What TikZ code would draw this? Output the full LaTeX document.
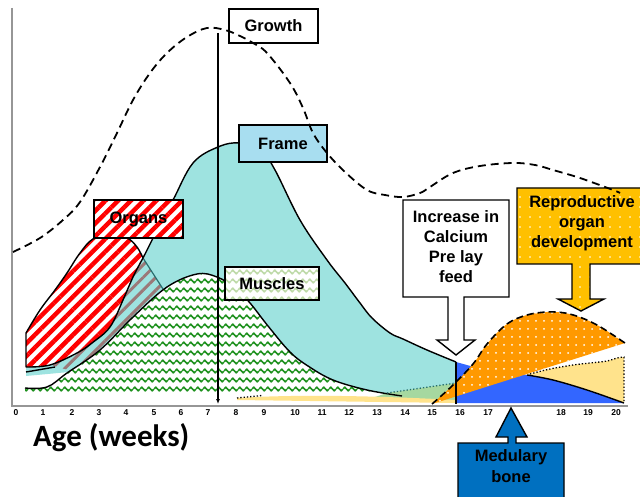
\documentclass[tikz,border=0pt]{standalone}
\usepackage{fontspec}
\setmainfont{Liberation Sans}
\newfontfamily\agefont{Carlito}
\usetikzlibrary{patterns,patterns.meta,arrows.meta}
\definecolor{cyanf}{RGB}{158,227,224}
\definecolor{frameboxc}{RGB}{168,222,240}
\definecolor{wavegreen}{RGB}{30,145,30}
\definecolor{palegreen}{RGB}{190,218,168}
\definecolor{lgreen}{RGB}{166,216,160}
\definecolor{orangef}{RGB}{255,153,0}
\definecolor{lyellow}{RGB}{255,227,140}
\definecolor{bluef}{RGB}{51,102,255}
\definecolor{medblue}{RGB}{0,112,192}
\definecolor{reproc}{RGB}{255,192,0}
\definecolor{brownstripe}{RGB}{155,120,120}
\definecolor{tealline}{RGB}{40,110,110}
\definecolor{axisgray}{RGB}{150,150,150}

\tikzdeclarepattern{
  name=zigzag,
  type=uncolored,
  bounding box={(0pt,-4.5pt) and (7pt,4.5pt)},
  tile size={(7pt,9pt)},
  code={
    \draw[line width=1.6pt, line join=round] (0pt,0pt) -- (1.75pt,1.9pt) -- (5.25pt,-1.9pt) -- (7pt,0pt);
  }
}

\begin{document}
\begin{tikzpicture}[x=1pt,y=-1pt,
  lbl/.style={font=\fontsize{16.5}{20}\selectfont\bfseries, align=center, inner sep=0},
  boxn/.style={draw=black, line width=1.4pt, inner sep=0, font=\fontsize{16.5}{20}\selectfont\bfseries},
  tickl/.style={font=\fontsize{8.5}{9}\selectfont\bfseries, inner sep=0},
  outl/.style={line width=1.4pt, line join=round},
  stripes/.style={pattern={Lines[angle=45,distance=9pt,line width=4.5pt]}, pattern color=red},
  callout/.style={draw=black, line width=1.4pt, line join=miter},
  sm/.style={smooth, tension=0.6}
]
\useasboundingbox (0,0) rectangle (640,497);
\fill[white] (0,0) rectangle (640,497);

% ---- Frame region
\fill[cyanf] (26,376) -- (26,362) -- (143,258) -- plot[sm] coordinates {(143,258)(153,238)(160,222)(173,200)(193,163)(218,147)(240,143)(262,152)(275,170)(300,220)(327,260)(345,283)(360,303)(372,318)(390,333)(403,339)(427,350)(456,362)} -- (456,400) -- (390,400) -- (390,393) -- (100,393) -- (80,371) -- cycle;

% brownish stripes seen through the frame
\path[pattern={Lines[angle=45,distance=9pt,line width=3pt]}, pattern color=brownstripe]
  (143,258) -- plot[sm] coordinates {(143,258)(133,277)(123,300)(110,327)(90,345)(77,353)(50,365)} -- (72,371)
  -- plot[sm] coordinates {(77,370)(100,350)(133,317)(163,290)} -- cycle;

% ---- Muscles region
\path[preaction={fill=white}, pattern=zigzag, pattern color=wavegreen]
  (25,394) -- (25,388) -- plot[sm] coordinates {(25,388)(47,387)(67,373)(100,350)(133,317)(167,287)(197,274)(217,277)(235,288)(250,303)(268,326)(290,352)(308,366)(333,380)(367,390)(402,396)} -- (396,394) -- cycle;

% ---- light green and yellow slivers
\fill[lgreen] (375,397) -- (387,393) -- (456,383) -- (456,401) -- (380,401) -- cycle;
\fill[lyellow] (237,398) .. controls (300,394) and (380,396) .. (456,400) -- (456,403) -- (237,400) -- cycle;

% ---- Medullary bone (blue)
\fill[bluef] (456,362) -- (474,367) -- (527,375) -- plot[sm] coordinates {(527,375)(553,380)(587,390)(624,403)} -- (456,403) -- cycle;

% ---- Reproductive (orange)
\path[preaction={fill=orangef}, pattern={Dots[distance=8pt,radius=1pt]}, pattern color=white]
  (432,404) -- plot[sm] coordinates {(432,404)(452,386)(473,364)(487,344)(507,324)(527,315)(547,312)(565,313)(582,318)(597,325)(610,333)(625,343)} -- cycle;

% ---- yellow right
\fill[lyellow] (530,374) -- plot[sm] coordinates {(530,374)(550,369)(573,365)(590,363)(607,361)(617,358)(624,357)} -- (624,403)
  -- plot[sm] coordinates {(624,403)(587,390)(553,380)(527,375)} -- cycle;

% ---- outlines
\draw[outl] plot[sm] coordinates {(143,258)(153,238)(160,222)(173,200)(193,163)(218,147)(240,143)(262,152)(275,170)(300,220)(327,260)(345,283)(360,303)(372,318)(390,333)(403,339)(427,350)(456,362)};
\draw[outl] (26,372) -- (55,367);
\draw[tealline, line width=1.2pt] (143,258) -- (163,289);
\draw[outl] plot[sm] coordinates {(25,388)(47,387)(67,373)(100,350)(133,317)(167,287)(197,274)(217,277)(235,288)(250,303)(268,326)(290,352)(308,366)(333,380)(367,390)(402,396)};
\draw[tealline, dotted, line width=1.3pt] (387,393) -- (456,383);
\draw[dotted, line width=1.3pt] (237,398) -- (262,395.5);
\draw[outl] plot[sm] coordinates {(527,375)(553,380)(587,390)(624,403)};
\draw[line width=1.6pt, dash pattern=on 7pt off 4pt] plot[sm] coordinates {(432,404)(452,386)(473,364)(487,344)(507,324)(527,315)(547,312)(565,313)(582,318)(597,325)(610,333)(625,343)};
\draw[dotted, line width=1.3pt] plot[sm] coordinates {(530,374)(550,369)(573,365)(590,363)(607,361)(617,358)(624,357)} -- (624,403);
\draw[line width=2.5pt] (456,362) -- (456,404);

% ---- Organs region
\path[draw, outl, preaction={fill=white}, stripes]
  (26,367) -- (26,333) -- plot[sm] coordinates {(26,333)(40,310)(55,290)(67,273)(80,253)(93,239)(110,236)(127,238)(137,247)(143,258)}
  -- plot[sm] coordinates {(143,258)(133,277)(123,300)(110,327)(92,343)(77,353)(50,365)(26,367)} -- cycle;

% ---- axes
\draw[axisgray, line width=1.3pt] (12,8) -- (12,406) -- (628,406);
\foreach \n/\xx in {0/16,1/43,2/72,3/99,4/126,5/154,6/181,7/208,8/236,9/264,10/295,11/322,12/349,13/377,14/405,15/432,16/460,17/488,18/561,19/588,20/616}
  \node[tickl] (t\n) at (\xx,413) {\n};
\node[anchor=west, inner sep=0, font=\agefont\bfseries\fontsize{31}{31}\selectfont] (age) at (33,438) {Age (weeks)};

% ---- growth vertical arrow
\coordinate (gtop) at (218,33);
\coordinate (gbot) at (218,404);
\draw[line width=1.2pt, -{Latex[length=5pt,width=4pt]}] (gtop) -- (gbot);

% ---- label boxes
\node[boxn, fill=white, minimum width=89, minimum height=34] (growth) at (273.5,26) {Growth};
\node[boxn, fill=frameboxc, minimum width=88, minimum height=37] (frame) at (283,143.5) {Frame};
\node[boxn, preaction={fill=white}, stripes, minimum width=89, minimum height=38] (organs) at (138.5,219) {Organs};
\node[boxn, preaction={fill=white}, pattern=zigzag, pattern color=palegreen, minimum width=94, minimum height=33] (muscles) at (272,283.5) {Muscles};

% ---- callouts
\draw[callout, fill=white] (403,200) -- (509,200) -- (509,297) -- (464,297) -- (464,340) -- (475,340) -- (456,355) -- (437,340) -- (448,340) -- (448,297) -- (403,297) -- cycle;
\node[lbl] (calcium) at (456,247) {Increase in\\Calcium\\Pre lay\\feed};

\path[callout, preaction={fill=reproc}, pattern={Dots[distance=10pt,radius=0.8pt]}, pattern color=white]
  (517,188) -- (647,188) -- (647,264) -- (590,264) -- (590,299) -- (604,299) -- (581,311) -- (558,299) -- (572,299) -- (572,264) -- (517,264) -- cycle;
\node[lbl] (repro) at (582,223) {Reproductive\\organ\\development};

\draw[callout, fill=medblue] (458,443) -- (508,443) -- (508,437) -- (496,437) -- (511,408) -- (527,437) -- (516,437) -- (516,443) -- (564,443) -- (564,505) -- (458,505) -- cycle;
\node[lbl, font=\fontsize{16.5}{21}\selectfont\bfseries] (medul) at (511,466.5) {Medulary\\bone};

% ---- growth dashed curve
\draw[line width=1.8pt, dash pattern=on 8pt off 5pt] plot[sm] coordinates {(13,252)(40,238)(63,220)(80,202)(100,167)(117,133)(133,100)(150,73)(167,53)(187,37)(207,28)(225,30)(240,36)(253,43)(267,53)(290,83)(303,108)(313,133)(327,153)(345,172)(367,190)(385,195)(403,197)(420,193)(430,187)(453,173)(480,166)(513,163)(535,165)(553,170)(580,178)(613,190)(620,193)};
\end{tikzpicture}
\end{document}
